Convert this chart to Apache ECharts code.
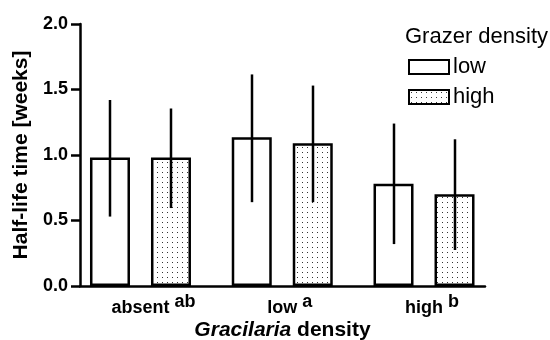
<!DOCTYPE html>
<html>
<head>
<meta charset="utf-8">
<script src="https://cdn.jsdelivr.net/npm/echarts@6/dist/echarts.min.js"></script>
<style>
  html, body { margin: 0; padding: 0; background: #fff; }
  #chart { width: 550px; height: 340px; }
</style>
</head>
<body>
<div id="chart"></div>
<script>
const categories = ['absent', 'low', 'high'];
const letters = ['ab', 'a', 'b'];
const grazerLow = [0.98, 1.135, 0.78];
const grazerLowLower = [0.53, 0.64, 0.32];
const grazerLowUpper = [1.42, 1.615, 1.24];
const grazerHigh = [0.98, 1.09, 0.70];
const grazerHighLower = [0.595, 0.64, 0.275];
const grazerHighUpper = [1.355, 1.53, 1.12];
const yTicks = [0, 0.5, 1, 1.5, 2];

const FONT = 'Arial, "Liberation Sans", sans-serif';

// dotted fill for the "high" bars
const dots = document.createElement('canvas');
dots.width = 5;
dots.height = 5;
const dctx = dots.getContext('2d');
dctx.fillStyle = '#fff';
dctx.fillRect(0, 0, 5, 5);
dctx.fillStyle = '#333';
dctx.fillRect(2, 2, 1, 1);

const barWidth = 40;
const barOffset = 30.5;

const errSeries = (name, lower, upper, sign) => ({
    name: name,
    type: 'custom',
    xAxisIndex: 1,
    yAxisIndex: 1,
    z: 5,
    silent: true,
    data: categories.map((c, i) => [i, lower[i], upper[i]]),
    renderItem: (params, api) => {
        const top = api.coord([api.value(0), api.value(2)]);
        const bot = api.coord([api.value(0), api.value(1)]);
        const x = Math.round(top[0] + sign * barOffset);
        return {
            type: 'line',
            shape: { x1: x, y1: top[1], x2: x, y2: bot[1] },
            style: { stroke: '#000', lineWidth: 2.5 }
        };
    }
});

const chart = echarts.init(document.getElementById('chart'), null, { renderer: 'canvas' });

const option = {
    backgroundColor: '#fff',
    animation: false,
    textStyle: { fontFamily: FONT },
    title: {
        text: 'Grazer density',
        left: 405,
        top: 26,
        padding: 0,
        textStyle: { fontFamily: FONT, fontSize: 22, fontWeight: 'normal', color: '#000' }
    },
    legend: {
        data: ['low', 'high'],
        orient: 'vertical',
        left: 408,
        top: 56,
        padding: 0,
        itemWidth: 40,
        itemHeight: 14,
        itemGap: 8,
        icon: 'rect',
        textStyle: { fontFamily: FONT, fontSize: 22, color: '#000', padding: [0, 0, 0, -1] }
    },
    grid: [
        { left: 80, right: 65, top: 24, bottom: 54, containLabel: false, outerBoundsMode: 'none' },
        { left: 69.6, right: 55.1, top: 24, bottom: 54, containLabel: false, outerBoundsMode: 'none' }
    ],
    xAxis: [
        {
            type: 'value',
            gridIndex: 0,
            min: 0,
            max: 1,
            axisLine: { show: true, lineStyle: { color: '#000', width: 2.5 } },
            axisTick: { show: false },
            axisLabel: { show: false },
            splitLine: { show: false },
            name: '{i|Gracilaria} density',
            nameLocation: 'middle',
            nameGap: 34,
            nameTextStyle: {
                fontFamily: FONT, fontSize: 21, fontWeight: 'bold', color: '#000',
                rich: {
                    i: { fontFamily: FONT, fontSize: 21, fontWeight: 'bold', fontStyle: 'italic', color: '#000' }
                }
            }
        },
        {
            type: 'category',
            gridIndex: 1,
            data: categories,
            axisLine: { show: false },
            axisTick: { show: false },
            axisLabel: {
                interval: 0,
                margin: 13,
                formatter: (v, i) => `{sp|${letters[i]}}{m|${v}}{s|${letters[i]}}`,
                rich: {
                    m: { fontFamily: FONT, fontSize: 18, fontWeight: 'bold', color: '#000', lineHeight: 18, verticalAlign: 'bottom' },
                    s: { fontFamily: FONT, fontSize: 18, fontWeight: 'bold', color: '#000', lineHeight: 18, padding: [0, 0, 6, 5], verticalAlign: 'bottom' },
                    sp: { fontFamily: FONT, fontSize: 18, fontWeight: 'bold', color: 'rgba(0,0,0,0)', lineHeight: 18, padding: [0, 5, 6, 0], verticalAlign: 'bottom' }
                }
            }
        }
    ],
    yAxis: [
        {
            type: 'value',
            gridIndex: 0,
            min: 0,
            max: 2,
            interval: 0.5,
            axisLine: { show: true, lineStyle: { color: '#000', width: 2.5 } },
            axisTick: { show: true, length: 9, lineStyle: { color: '#000', width: 2.5 } },
            axisLabel: {
                margin: 12,
                fontFamily: FONT, fontSize: 18, fontWeight: 'bold', color: '#000',
                formatter: v => yTicks.includes(v) ? v.toFixed(1) : ''
            },
            splitLine: { show: false },
            name: 'Half-life time [weeks]',
            nameLocation: 'middle',
            nameGap: 46,
            nameTextStyle: { fontFamily: FONT, fontSize: 21, fontWeight: 'bold', color: '#000' }
        },
        {
            type: 'value',
            gridIndex: 1,
            min: 0,
            max: 2,
            show: false
        }
    ],
    series: [
        {
            name: 'low',
            type: 'bar',
            xAxisIndex: 1,
            yAxisIndex: 1,
            barWidth: barWidth,
            barGap: '52.5%',
            data: grazerLow,
            itemStyle: { color: '#fff', borderColor: '#000', borderWidth: 2.5 }
        },
        {
            name: 'high',
            type: 'bar',
            xAxisIndex: 1,
            yAxisIndex: 1,
            barWidth: barWidth,
            barGap: '52.5%',
            data: grazerHigh,
            itemStyle: { color: { image: dots, repeat: 'repeat' }, borderColor: '#000', borderWidth: 2.5 }
        },
        errSeries('err-low', grazerLowLower, grazerLowUpper, -1),
        errSeries('err-high', grazerHighLower, grazerHighUpper, 1)
    ]
};

chart.setOption(option);
</script>
</body>
</html>
